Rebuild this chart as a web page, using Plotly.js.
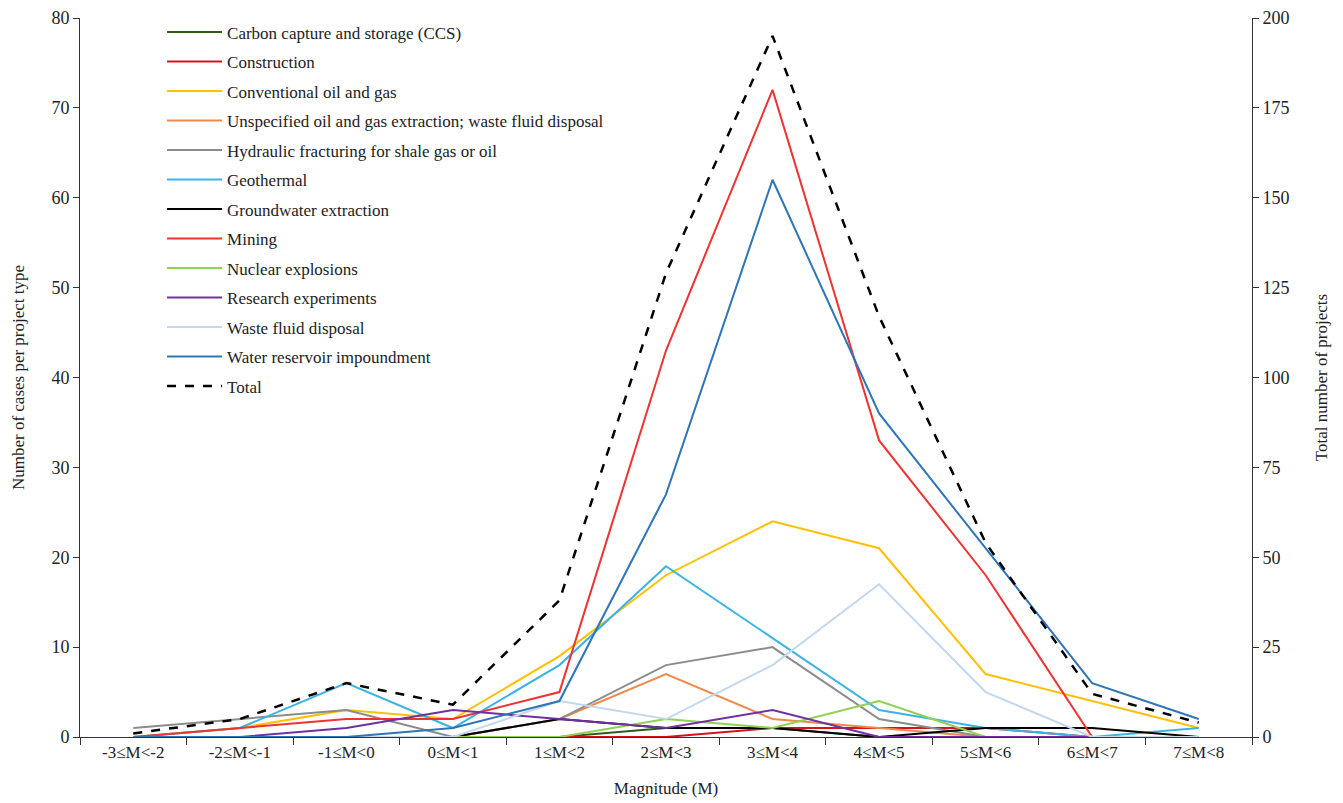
<!DOCTYPE html>
<html>
<head>
<meta charset="utf-8">
<script src="https://cdn.plot.ly/plotly-3.0.1.min.js"></script>
<style>html,body{margin:0;padding:0;background:#fff;}#chart{width:1343px;height:803px;}</style>
</head>
<body>
<div id="chart"></div>
<script>
var categories = ["-3≤M<-2","-2≤M<-1","-1≤M<0","0≤M<1","1≤M<2","2≤M<3","3≤M<4","4≤M<5","5≤M<6","6≤M<7","7≤M<8"];

var ccs            = [0,0,0,0,0,1,1,0,0,0,0];
var construction   = [0,0,0,0,0,0,1,1,1,0,0];
var conventional   = [0,1,3,2,9,18,24,21,7,4,1];
var unspecified    = [0,0,0,0,2,7,2,1,0,0,0];
var hydraulic      = [1,2,3,0,2,8,10,2,0,0,0];
var geothermal     = [0,1,6,1,8,19,11,3,1,0,1];
var groundwater    = [0,0,0,0,2,1,1,0,1,1,0];
var mining         = [0,1,2,2,5,43,72,33,18,0,0];
var nuclear        = [0,0,0,0,0,2,1,4,0,0,0];
var research       = [0,0,1,3,2,1,3,0,0,0,0];
var wasteFluid     = [0,0,0,0,4,2,8,17,5,0,0];
var reservoir      = [0,0,0,1,4,27,62,36,21,6,2];
var total          = [1,5,15,9,38,129,195,117,54,12,4];

var seriesNames = ["Carbon capture and storage (CCS)","Construction","Conventional oil and gas",
  "Unspecified oil and gas extraction; waste fluid disposal","Hydraulic fracturing for shale gas or oil",
  "Geothermal","Groundwater extraction","Mining","Nuclear explosions","Research experiments",
  "Waste fluid disposal","Water reservoir impoundment"];
var seriesValues = [ccs,construction,conventional,unspecified,hydraulic,geothermal,groundwater,
  mining,nuclear,research,wasteFluid,reservoir];
var seriesColors = ["#2f5a1c","#d3131c","#ffc000","#f08a4b","#8c8c8c","#3bb3e6","#000000",
  "#f03232","#92d050","#7030a0","#c3d8ee","#2e75b6"];

var traces = seriesNames.map(function(n,i){
  return {x:categories, y:seriesValues[i], name:n, type:"scatter", mode:"lines",
    line:{color:seriesColors[i], width:2}, legendgroup:"g"+i, yaxis:"y"};
});
traces.push({x:categories, y:total, name:"Total", type:"scatter", mode:"lines",
  line:{color:"#000000", width:2.5, dash:"dash"}, legendgroup:"gT", yaxis:"y2"});

var fontFam = "Liberation Serif, Times New Roman, serif";
var layout = {
  width:1343, height:803,
  margin:{l:80, r:91, t:18, b:66},
  paper_bgcolor:"#ffffff", plot_bgcolor:"#ffffff",
  font:{family:fontFam, size:17, color:"#222"},
  showlegend:true,
  legend:{x:0.07, y:1.005, xanchor:"left", yanchor:"top", bgcolor:"rgba(0,0,0,0)",
    font:{family:fontFam, size:17, color:"#222"}, tracegroupgap:4.4, traceorder:"grouped", itemwidth:55},
  xaxis:{type:"category", range:[-0.5,10.5], showgrid:false, zeroline:false,
    showline:true, linecolor:"#333", linewidth:1, ticks:"outside", ticklen:7, tickcolor:"#333",
    tickson:"boundaries", tickfont:{family:fontFam, size:17, color:"#222"},
    title:{text:"Magnitude (M)", font:{family:fontFam, size:17, color:"#222"}, standoff:20}},
  yaxis:{range:[0,80], dtick:10, showgrid:false, zeroline:false, showline:true,
    linecolor:"#333", linewidth:1, ticks:"outside", ticklen:6, tickcolor:"#333",
    tickfont:{family:fontFam, size:18, color:"#222"},
    title:{text:"Number of cases per project type", font:{family:fontFam, size:17, color:"#222"}, standoff:22}},
  yaxis2:{range:[0,200], dtick:25, overlaying:"y", side:"right", showgrid:false, zeroline:false,
    showline:true, linecolor:"#333", linewidth:1, ticks:"outside", ticklen:6, tickcolor:"#333",
    tickfont:{family:fontFam, size:18, color:"#222"},
    title:{text:"Total number of projects", font:{family:fontFam, size:17, color:"#222"}, standoff:26}}
};
Plotly.newPlot("chart", traces, layout, {displayModeBar:false, staticPlot:true});
</script>
</body>
</html>
